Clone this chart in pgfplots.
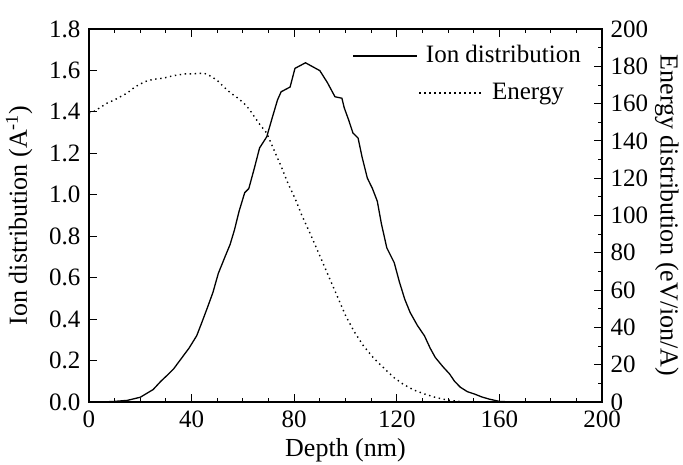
\documentclass[border=0pt]{standalone}
\usepackage{fontspec}
\setmainfont{Liberation Serif}
\usepackage{pgfplots}
\pgfplotsset{compat=1.18}
\begin{document}
\fontsize{25}{30}\selectfont
\begin{tikzpicture}
\pgfplotsset{
  common/.style={
    scale only axis, width=513pt, height=373pt,
    xmin=0, xmax=200,
    tick align=inside,
    major tick length=8pt, minor tick length=4pt,
    every tick/.style={black, line width=0.9pt},
    axis line style={line width=1.1pt},
    tick label style={font=\fontsize{25}{30}\selectfont},
    label style={font=\fontsize{26}{31}\selectfont},
    /pgf/number format/assume math mode=true,
    legend style={draw=none, fill=none, inner sep=0pt, column sep=7pt,
      font=\fontsize{25}{30}\selectfont, nodes={inner sep=1pt}},
    legend image code/.code={\draw[##1] (0pt,0pt) -- (64pt,0pt);},
  },
}
\useasboundingbox (-89pt,-62pt) rectangle (594pt,402pt);
\begin{axis}[common,
  ymin=0, ymax=1.8,
  xtick={0,40,80,120,160,200}, minor x tick num=3,
  ytick={0,0.2,0.4,0.6,0.8,1.0,1.2,1.4,1.6,1.8},
  ytick pos=left,
  yticklabel style={/pgf/number format/.cd, fixed, fixed zerofill, precision=1},
  xlabel={Depth (nm)},
  ylabel={Ion distribution (A\textsuperscript{-1})},
  xlabel style={yshift=6pt},
  legend style={at={(rel axis cs:0.961,0.928)}, anchor=east},
]
\addplot[black, line width=1.3pt] coordinates {
(0,0) (5,0) (10,0.003) (15,0.008) (20,0.023) (25,0.06) (28,0.1) (31,0.135)
(33,0.16) (36,0.21) (39,0.26) (42,0.32) (44,0.384) (46,0.45) (48.3,0.528)
(50.4,0.62) (53,0.70) (55,0.76) (56.7,0.83) (58.5,0.92) (60.7,1.01) (62.3,1.03)
(64.5,1.13) (66.5,1.226) (69.3,1.28) (71.4,1.37) (73.5,1.458) (74.9,1.497)
(78.4,1.52) (80.3,1.61) (84.4,1.637) (90,1.599) (93,1.54) (95.9,1.473)
(98.6,1.466) (99.5,1.42) (101.2,1.362) (102.9,1.298) (104.9,1.274)
(106.5,1.18) (108.5,1.081) (110.5,1.03) (112.4,0.969) (114,0.86) (116.1,0.744)
(119,0.672) (121,0.58) (123.1,0.496) (125.2,0.432) (128,0.37) (130.8,0.319)
(133,0.26) (135,0.215) (138,0.17) (140.6,0.135) (142.5,0.10) (144.8,0.071)
(147.5,0.05) (150.4,0.038) (153,0.025) (156,0.014) (160,0.003) (165,0) (200,0)
};
\addlegendentry{Ion distribution}
\end{axis}
\begin{axis}[common,
  ymin=0, ymax=200,
  axis x line=none,
  axis y line*=right,
  ytick={0,20,...,200}, minor y tick num=1,
  ylabel={Energy distribution (eV/ion/A)},
  ylabel style={rotate=180},
  ylabel shift=-10pt,
  legend style={at={(rel axis cs:0.928,0.828)}, anchor=east},
]
\addplot[black, line width=1.4pt, dash pattern=on 1.4pt off 3.6pt] coordinates {
(0,155) (2.2,156) (7.1,160.3) (10,162) (14.8,165.6) (18,169) (21.8,171.8)
(25,173) (28.8,173.6) (33,175) (37.2,175.9) (41,176) (44.9,176.3) (47,175)
(49.8,172.7) (52.5,169) (55.3,165.6) (58,163) (60.3,160.3) (62.5,157)
(64.4,153.1) (66.5,149) (69.3,144.2) (72,135.5) (74.9,126.4) (77.5,117.5)
(80.5,108.6) (83,100) (86.1,90.7) (89,81.5) (91.7,72.9) (94.5,64) (97.3,55.1)
(100.1,46.1) (103.5,37.5) (107,30.1) (111,23.5) (115.4,17.6) (119,13)
(122.4,9.6) (126.5,6.5) (130.8,4.3) (135,2.5) (139.2,1.2) (146,0)
};
\addlegendentry{Energy}
\end{axis}
\end{tikzpicture}
\end{document}
